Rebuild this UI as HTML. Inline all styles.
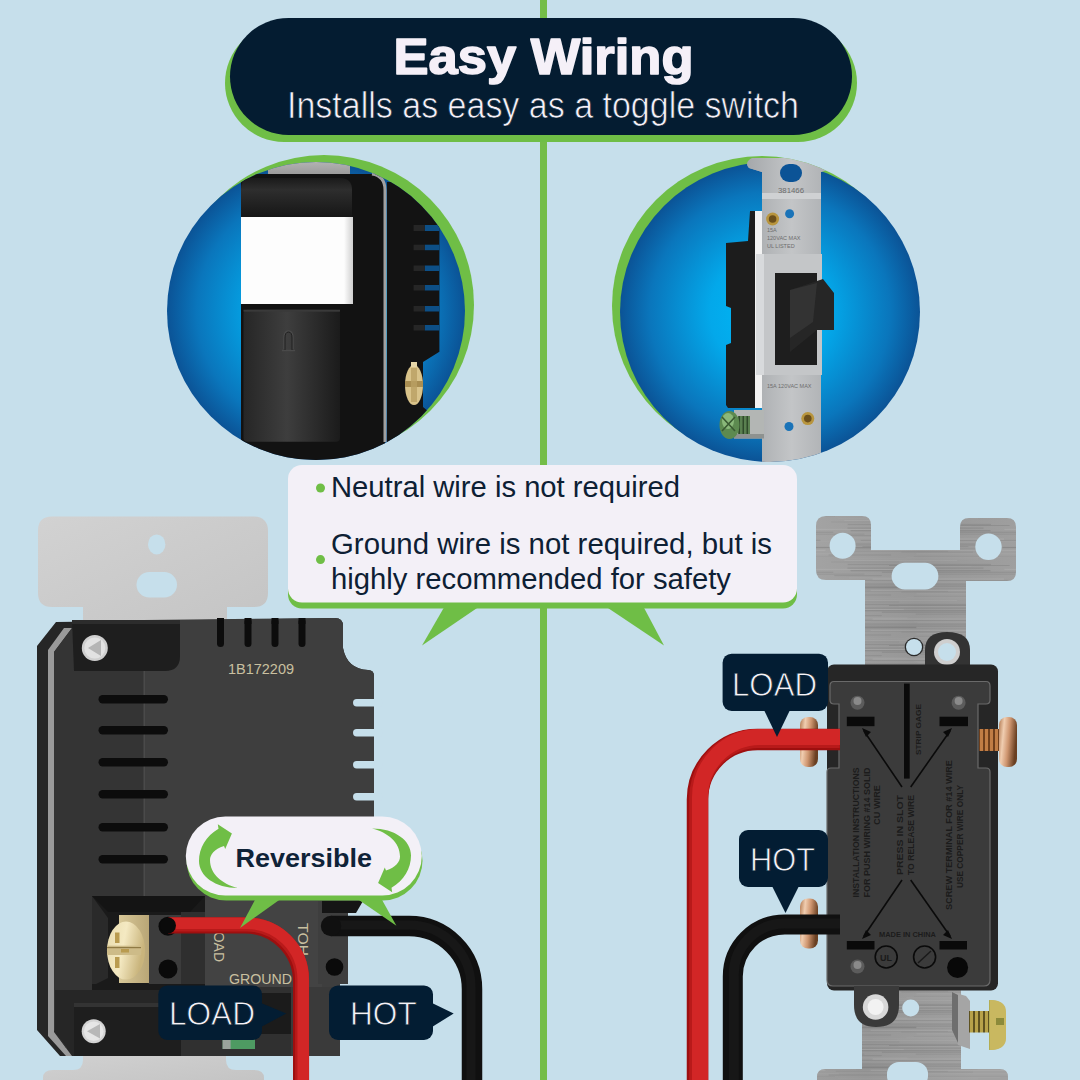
<!DOCTYPE html>
<html><head><meta charset="utf-8">
<style>
html,body{margin:0;padding:0;background:#c6dfeb;width:1080px;height:1080px;overflow:hidden}
svg{display:block}
text{font-family:"Liberation Sans",sans-serif}
</style></head>
<body>
<svg width="1080" height="1080" viewBox="0 0 1080 1080">
<defs>
  <radialGradient id="blueL" cx="0.5" cy="0.5" r="0.5">
    <stop offset="0" stop-color="#00baf8"/>
    <stop offset="0.4" stop-color="#03a8ea"/>
    <stop offset="0.8" stop-color="#0a76bc"/>
    <stop offset="1" stop-color="#0b5396"/>
  </radialGradient>
  <radialGradient id="blueR" cx="0.5" cy="0.5" r="0.5">
    <stop offset="0" stop-color="#00baf8"/>
    <stop offset="0.4" stop-color="#03a8ea"/>
    <stop offset="0.8" stop-color="#0a76bc"/>
    <stop offset="1" stop-color="#0b5396"/>
  </radialGradient>
  <linearGradient id="strapL" x1="0" y1="0" x2="1" y2="1">
    <stop offset="0" stop-color="#d2d2d2"/>
    <stop offset="1" stop-color="#c4c4c4"/>
  </linearGradient>
  <linearGradient id="steel" x1="0" y1="0" x2="1" y2="0.3">
    <stop offset="0" stop-color="#a3a3a3"/>
    <stop offset="0.5" stop-color="#979797"/>
    <stop offset="1" stop-color="#a0a0a0"/>
  </linearGradient>
  <clipPath id="clipL"><circle cx="316" cy="311" r="149"/></clipPath>
  <clipPath id="clipG"><circle cx="762" cy="306" r="150"/></clipPath>
  <clipPath id="clipR"><circle cx="770" cy="312" r="150"/></clipPath>
  <linearGradient id="strapTop" x1="0" y1="0" x2="0" y2="1">
    <stop offset="0" stop-color="#c8c8c8"/><stop offset="1" stop-color="#9a9a9a"/>
  </linearGradient>
  <linearGradient id="steel2" x1="0" y1="0" x2="1" y2="0">
    <stop offset="0" stop-color="#a5a8ab"/><stop offset="0.5" stop-color="#c3c5c7"/><stop offset="1" stop-color="#a9acaf"/>
  </linearGradient>
  <linearGradient id="copperV" x1="0" y1="0" x2="1" y2="0.25">
    <stop offset="0" stop-color="#b27a52"/><stop offset="0.3" stop-color="#f0cdb0"/><stop offset="0.6" stop-color="#cf9670"/><stop offset="1" stop-color="#6a4022"/>
  </linearGradient>
  <pattern id="threads" x="0" y="0" width="5" height="22" patternUnits="userSpaceOnUse">
    <rect width="5" height="22" fill="#c07d45"/><rect x="3" width="2" height="22" fill="#6e3f1c"/>
  </pattern>
  <linearGradient id="padG" x1="0" y1="0" x2="1" y2="0">
    <stop offset="0" stop-color="#262626"/><stop offset="0.45" stop-color="#3e3e3e"/><stop offset="1" stop-color="#1b1b1b"/>
  </linearGradient>
  <linearGradient id="capG" x1="0" y1="0" x2="0" y2="1">
    <stop offset="0" stop-color="#1a1a1a"/><stop offset="0.3" stop-color="#2e2e2e"/><stop offset="1" stop-color="#161616"/>
  </linearGradient>
  <linearGradient id="winEdge" x1="0" y1="0" x2="1" y2="0">
    <stop offset="0" stop-color="#fdfdfd"/><stop offset="1" stop-color="#cfcfcf"/>
  </linearGradient>
  <pattern id="brushed" x="0" y="0" width="200" height="40" patternUnits="userSpaceOnUse"><rect x="44.4" y="0.0" width="112.5" height="0.8" fill="#ffffff" opacity="0.08"/><rect x="-155.6" y="0.0" width="112.5" height="0.8" fill="#ffffff" opacity="0.08"/><rect x="31.1" y="1.7" width="68.1" height="0.6" fill="#000000" opacity="0.08"/><rect x="-168.9" y="1.7" width="68.1" height="0.6" fill="#000000" opacity="0.08"/><rect x="47.7" y="3.9" width="143.3" height="1.2" fill="#000000" opacity="0.08"/><rect x="-152.3" y="3.9" width="143.3" height="1.2" fill="#000000" opacity="0.08"/><rect x="89.0" y="5.0" width="120.6" height="0.8" fill="#000000" opacity="0.11"/><rect x="-111.0" y="5.0" width="120.6" height="0.8" fill="#000000" opacity="0.11"/><rect x="98.8" y="5.9" width="72.3" height="0.6" fill="#ffffff" opacity="0.06"/><rect x="-101.2" y="5.9" width="72.3" height="0.6" fill="#ffffff" opacity="0.06"/><rect x="47.4" y="7.5" width="136.1" height="1.2" fill="#000000" opacity="0.09"/><rect x="-152.6" y="7.5" width="136.1" height="1.2" fill="#000000" opacity="0.09"/><rect x="4.3" y="8.9" width="99.4" height="0.8" fill="#ffffff" opacity="0.11"/><rect x="-195.7" y="8.9" width="99.4" height="0.8" fill="#ffffff" opacity="0.11"/><rect x="50.5" y="10.1" width="140.0" height="1.2" fill="#000000" opacity="0.10"/><rect x="-149.5" y="10.1" width="140.0" height="1.2" fill="#000000" opacity="0.10"/><rect x="81.8" y="11.7" width="151.5" height="1.2" fill="#000000" opacity="0.08"/><rect x="-118.2" y="11.7" width="151.5" height="1.2" fill="#000000" opacity="0.08"/><rect x="115.8" y="13.7" width="148.6" height="0.8" fill="#000000" opacity="0.09"/><rect x="-84.2" y="13.7" width="148.6" height="0.8" fill="#000000" opacity="0.09"/><rect x="34.2" y="15.3" width="47.6" height="0.8" fill="#000000" opacity="0.09"/><rect x="-165.8" y="15.3" width="47.6" height="0.8" fill="#000000" opacity="0.09"/><rect x="49.3" y="17.3" width="58.1" height="1.2" fill="#ffffff" opacity="0.04"/><rect x="-150.7" y="17.3" width="58.1" height="1.2" fill="#ffffff" opacity="0.04"/><rect x="72.6" y="18.5" width="131.4" height="1.2" fill="#ffffff" opacity="0.11"/><rect x="-127.4" y="18.5" width="131.4" height="1.2" fill="#ffffff" opacity="0.11"/><rect x="60.7" y="19.8" width="159.8" height="1.0" fill="#000000" opacity="0.08"/><rect x="-139.3" y="19.8" width="159.8" height="1.0" fill="#000000" opacity="0.08"/><rect x="113.9" y="21.1" width="156.6" height="0.6" fill="#ffffff" opacity="0.04"/><rect x="-86.1" y="21.1" width="156.6" height="0.6" fill="#ffffff" opacity="0.04"/><rect x="117.6" y="22.3" width="80.8" height="1.0" fill="#ffffff" opacity="0.04"/><rect x="-82.4" y="22.3" width="80.8" height="1.0" fill="#ffffff" opacity="0.04"/><rect x="45.2" y="23.6" width="144.4" height="0.8" fill="#000000" opacity="0.11"/><rect x="-154.8" y="23.6" width="144.4" height="0.8" fill="#000000" opacity="0.11"/><rect x="51.7" y="24.9" width="126.4" height="0.6" fill="#000000" opacity="0.09"/><rect x="-148.3" y="24.9" width="126.4" height="0.6" fill="#000000" opacity="0.09"/><rect x="62.5" y="26.1" width="105.8" height="1.0" fill="#000000" opacity="0.07"/><rect x="-137.5" y="26.1" width="105.8" height="1.0" fill="#000000" opacity="0.07"/><rect x="2.4" y="26.9" width="113.9" height="1.2" fill="#000000" opacity="0.12"/><rect x="-197.6" y="26.9" width="113.9" height="1.2" fill="#000000" opacity="0.12"/><rect x="56.0" y="28.6" width="121.5" height="0.6" fill="#000000" opacity="0.09"/><rect x="-144.0" y="28.6" width="121.5" height="0.6" fill="#000000" opacity="0.09"/><rect x="70.7" y="29.8" width="154.6" height="1.0" fill="#ffffff" opacity="0.10"/><rect x="-129.3" y="29.8" width="154.6" height="1.0" fill="#ffffff" opacity="0.10"/><rect x="35.8" y="30.7" width="112.2" height="1.0" fill="#000000" opacity="0.05"/><rect x="-164.2" y="30.7" width="112.2" height="1.0" fill="#000000" opacity="0.05"/><rect x="101.3" y="31.7" width="71.7" height="0.8" fill="#000000" opacity="0.06"/><rect x="-98.7" y="31.7" width="71.7" height="0.8" fill="#000000" opacity="0.06"/><rect x="116.6" y="33.6" width="122.0" height="0.6" fill="#ffffff" opacity="0.10"/><rect x="-83.4" y="33.6" width="122.0" height="0.6" fill="#ffffff" opacity="0.10"/><rect x="28.6" y="34.6" width="62.5" height="0.8" fill="#000000" opacity="0.09"/><rect x="-171.4" y="34.6" width="62.5" height="0.8" fill="#000000" opacity="0.09"/><rect x="113.9" y="36.0" width="121.0" height="0.6" fill="#000000" opacity="0.04"/><rect x="-86.1" y="36.0" width="121.0" height="0.6" fill="#000000" opacity="0.04"/><rect x="106.2" y="37.1" width="94.1" height="0.8" fill="#ffffff" opacity="0.03"/><rect x="-93.8" y="37.1" width="94.1" height="0.8" fill="#ffffff" opacity="0.03"/><rect x="37.8" y="38.3" width="140.3" height="0.6" fill="#ffffff" opacity="0.03"/><rect x="-162.2" y="38.3" width="140.3" height="0.6" fill="#ffffff" opacity="0.03"/><rect x="96.8" y="39.9" width="81.4" height="1.0" fill="#ffffff" opacity="0.06"/><rect x="-103.2" y="39.9" width="81.4" height="1.0" fill="#ffffff" opacity="0.06"/></pattern>
  <pattern id="gthreads" x="0" y="0" width="5" height="22" patternUnits="userSpaceOnUse">
    <rect width="5" height="22" fill="#b7a24a"/><rect x="3" width="2" height="22" fill="#5e5220"/>
  </pattern>
  <linearGradient id="brassHead" x1="0" y1="0" x2="1" y2="0.3">
    <stop offset="0" stop-color="#e9dcae"/><stop offset="0.5" stop-color="#f4e9c2"/><stop offset="1" stop-color="#c9b47c"/>
  </linearGradient>
  <linearGradient id="brassBody" x1="0" y1="0" x2="1" y2="0">
    <stop offset="0" stop-color="#d8c898"/><stop offset="1" stop-color="#b9a676"/>
  </linearGradient>
  <pattern id="greenThreads" x="0" y="0" width="4" height="20" patternUnits="userSpaceOnUse">
    <rect width="4" height="20" fill="#5a8050"/><rect x="2.5" width="1.5" height="20" fill="#2f4a2a"/>
  </pattern>
</defs>
<rect width="1080" height="1080" fill="#c6dfeb"/>
<!-- center green line -->
<rect x="540" y="0" width="7" height="1080" fill="#74bd48"/>


<!-- ===== LEFT DIMMER (back view) ===== -->
<g id="dimmer">
  <!-- strap top -->
  <path d="M52 516.5 H254 Q268 517 268 531 V593 Q268 607 254 607 H227 V625 H83 V607 H52 Q38 607 38 593 V530.5 Q38 516.5 52 516.5 Z" fill="url(#strapL)"/>
  <ellipse cx="156.7" cy="544.4" rx="8.7" ry="10" fill="#c6dfeb"/>
  <rect x="136.5" y="572" width="40.5" height="25.6" rx="12.8" fill="#c6dfeb"/>
  <!-- strap bottom -->
  <path d="M83 1050 H226 V1060 Q226 1070 236 1070 H254 Q264 1070 264 1078 V1080 H43 V1078 Q43 1070 53 1070 H73 Q83 1070 83 1060 Z" fill="url(#strapL)"/>
  <!-- body outer -->
  <path d="M37 646 L56 622 L335 618 Q343 618 343 626 V648 Q347 669 368 670 Q374 670 374 676 V902 H348 V984 H340 V1050 Q340 1056 334 1056 H60 L37 1030 Z" fill="#262626"/>
  <!-- grey edge line -->
  <path d="M48 650 L64 628 L72 628 L54 652 V1032 L72 1056 H66 L48 1036 Z" fill="#9a9a9a"/>
  <!-- left inner panel -->
  <path d="M54 652 L72 628 H144 V1048 H66 L54 1030 Z" fill="#343434"/>
  <!-- right main panel -->
  <path d="M144 620 L335 618 Q343 618 343 626 V648 Q347 669 368 670 Q374 670 374 676 V902 H348 V984 H340 V1056 H144 Z" fill="#3e3e3e"/>
  <rect x="143.5" y="671" width="1.5" height="230" fill="#4a4a4a"/>
  <!-- right fin notches -->
  <g fill="#c6dfeb">
    <rect x="353" y="699" width="30" height="7.5" rx="3.7"/>
    <rect x="353" y="729" width="30" height="7.5" rx="3.7"/>
    <rect x="353" y="761" width="30" height="7.5" rx="3.7"/>
    <rect x="353" y="793" width="30" height="7.5" rx="3.7"/>
  </g>
  <!-- top slots -->
  <g fill="#0c0c0c">
    <rect x="217" y="618.5" width="7" height="28.5" rx="3.5"/>
    <rect x="217" y="618" width="7" height="6"/>
    <rect x="244.5" y="618.5" width="7" height="28.5" rx="3.5"/>
    <rect x="244.5" y="618" width="7" height="6"/>
    <rect x="271.5" y="618.5" width="7" height="28.5" rx="3.5"/>
    <rect x="271.5" y="618" width="7" height="6"/>
    <rect x="298.5" y="618.5" width="7" height="28.5" rx="3.5"/>
    <rect x="298.5" y="618" width="7" height="6"/>
  </g>
  <text x="228" y="673.5" font-size="14.5" fill="#c9c0a0" textLength="66" lengthAdjust="spacingAndGlyphs">1B172209</text>
  <!-- left slots -->
  <g fill="#0c0c0c">
    <rect x="98.5" y="695" width="69.5" height="8.5" rx="4.2"/>
    <rect x="98.5" y="726" width="69.5" height="8.5" rx="4.2"/>
    <rect x="98.5" y="758" width="69.5" height="8.5" rx="4.2"/>
    <rect x="98.5" y="790" width="69.5" height="8.5" rx="4.2"/>
    <rect x="98.5" y="823" width="69.5" height="8.5" rx="4.2"/>
    <rect x="98.5" y="855" width="69.5" height="8.5" rx="4.2"/>
  </g>
  <!-- top screw housing -->
  <path d="M72 620 H180 V656 Q180 671 165 671 H74 Z" fill="#1e1e1e"/>
  <path d="M72 620 H180 V624 H72 Z" fill="#2c2c2c"/>
  <circle cx="94.8" cy="648" r="13" fill="#cfcfcf"/>
  <circle cx="94.8" cy="648" r="10.5" fill="#e2e2e2"/>
  <path d="M101 640 L88 648 L101 656 Z" fill="#b5b5b5"/>

  <!-- lower terminal region -->
  <rect x="92" y="896" width="113" height="90" fill="#1a1a1a"/>
  <path d="M92 896 L108 918 V978 L92 986 Z" fill="#2a2a2a"/>
  <path d="M92 896 H205 L190 912 H108 Z" fill="#141414"/>
  <rect x="181" y="912" width="24" height="74" fill="#2f2f2f"/>
  <rect x="148.7" y="915" width="32.3" height="71" fill="#3c3c3c"/>
  <!-- brass screw -->
  <rect x="119" y="915" width="30" height="68" fill="url(#brassBody)"/>
  <ellipse cx="126" cy="950.6" rx="19" ry="29" fill="url(#brassHead)"/>
  <rect x="107" y="945.7" width="34" height="9.3" fill="#cdbb88"/>
  <rect x="107" y="947" width="34" height="1.2" fill="#8f7a45"/>
  <rect x="115" y="932.5" width="4.5" height="10.5" fill="#b99b50"/>
  <rect x="115" y="957" width="4.5" height="11" fill="#b99b50"/>
  <rect x="121" y="949" width="8" height="3.5" fill="#b99b50"/>
  <!-- terminal holes -->
  <circle cx="168" cy="926.3" r="9.5" fill="#0a0a0a"/>
  <circle cx="168" cy="969" r="9.5" fill="#0a0a0a"/>
  <!-- mid panel -->
  <rect x="205" y="900" width="117" height="87" fill="#434343"/>
  <text transform="matrix(0,1,-1,0,214,924)" font-size="14.5" fill="#c9c0a0" textLength="38" lengthAdjust="spacingAndGlyphs">LOAD</text>
  <text transform="matrix(0,-1,-1,0,298,956)" font-size="14.5" fill="#c9c0a0" textLength="33" lengthAdjust="spacingAndGlyphs">HOT</text>
  <text x="229" y="983.5" font-size="14.5" fill="#c9c0a0" textLength="63" lengthAdjust="spacingAndGlyphs">GROUND</text>
  <!-- right terminal block -->
  <rect x="318" y="901" width="30" height="83" fill="#3e3e3e"/>
  <path d="M322 901 H363 L356 913 H322 Z" fill="#151515"/>
  <circle cx="334.5" cy="967" r="8.8" fill="#0a0a0a"/>
  <!-- bottom section -->
  <rect x="144" y="987" width="196" height="69" fill="#303030"/>
  <rect x="291" y="987" width="49" height="69" fill="#3a3a3a"/>
  <rect x="92" y="984" width="113" height="21" fill="#1a1a1a"/>
  <rect x="261" y="993" width="30" height="41" fill="#1b1b1b"/>
  <rect x="222.6" y="1038.7" width="32.4" height="10.3" fill="#4e9a62"/>
  <rect x="222.6" y="1038.7" width="8" height="10.3" fill="#9aa39c"/>
  <path d="M55 990 H181 V1056 H73 L55 1032 Z" fill="#262626"/>
  <path d="M74 1004 H181 V1056 H74 Z" fill="#1e1e1e"/>
  <rect x="74" y="1003" width="107" height="4" fill="#333333"/>
  <circle cx="93.7" cy="1031.3" r="12" fill="#d4d4d4"/>
  <circle cx="93.7" cy="1031.3" r="9.8" fill="#e6e6e6"/>
  <path d="M100 1024 L87 1031.3 L100 1038.5 Z" fill="#b8b8b8"/>
</g>


<!-- ===== RIGHT SWITCH (back view) ===== -->
<g id="switch">
  <!-- strap -->
  <path d="M826 516 H862 Q871 516 871 525 V550 H960 V527 Q960 518 969 518 H1007 Q1016 518 1016 527 V572 Q1016 581 1007 581 H966 V990 H961 V1069 H1000 Q1008 1069 1008 1077 V1080 H817 V1077 Q817 1069 825 1069 H862 V990 H865 V580 H826 Q816 580 816 570 V526 Q816 516 826 516 Z" fill="url(#steel)"/>
  <path d="M826 516 H862 Q871 516 871 525 V550 H960 V527 Q960 518 969 518 H1007 Q1016 518 1016 527 V572 Q1016 581 1007 581 H966 V990 H961 V1069 H1000 Q1008 1069 1008 1077 V1080 H817 V1077 Q817 1069 825 1069 H862 V990 H865 V580 H826 Q816 580 816 570 V526 Q816 516 826 516 Z" fill="url(#brushed)"/>
  <circle cx="842.6" cy="545.8" r="13" fill="#c6dfeb"/>
  <circle cx="988.5" cy="546.8" r="13.2" fill="#c6dfeb"/>
  <rect x="891.6" y="562.8" width="46.8" height="26.6" rx="13.3" fill="#c6dfeb"/>
  <rect x="887" y="1062" width="41" height="26" rx="12" fill="#c6dfeb"/>
  <!-- top boss -->
  <circle cx="914" cy="647" r="9.3" fill="#2a2a2a"/>
  <circle cx="914" cy="647" r="8" fill="#c6dfeb"/>
  <path d="M925 650 Q925 632 947 632 Q970 632 970 650 V672 H925 Z" fill="#333333"/>
  <circle cx="947" cy="652" r="13" fill="#cfcfcf"/>
  <circle cx="947" cy="652" r="9" fill="#c6dfeb"/>
  <!-- body outer -->
  <rect x="827" y="664.5" width="171" height="326" rx="7" fill="#262626"/>
  <!-- plate -->
  <path d="M834 681.5 H986 Q990 681.5 990 686 V700 Q990 704 986 704 H978 V768 H986 Q990 768 990 772 V980 Q990 986 984 986 H833 Q827 986 827 980 V772 Q827 768 831 768 H839 V704 H834 Q830 704 830 700 V686 Q830 681.5 834 681.5 Z" fill="#3b3b3b" stroke="#6a6a6a" stroke-width="1.2"/>
  <rect x="904" y="683.6" width="5.7" height="95" fill="#0a0a0a"/>
  <g fill="#0a0a0a">
    <rect x="846.8" y="716.7" width="27.7" height="9.5"/>
    <rect x="939.5" y="716.7" width="28.5" height="9.5"/>
    <rect x="846.8" y="941" width="27.7" height="8.5"/>
    <rect x="939.5" y="941" width="27.5" height="8.5"/>
  </g>
  <g fill="#5c5c5c"><circle cx="857.5" cy="702.8" r="7"/><circle cx="958.6" cy="702.8" r="7"/><circle cx="857.5" cy="966.5" r="7"/></g>
  <g fill="#8a8a8a"><circle cx="857.5" cy="701" r="4"/><circle cx="958.6" cy="701" r="4"/><circle cx="857.5" cy="965" r="4"/></g>
  <g stroke="#0a0a0a" stroke-width="1.6" fill="none">
    <line x1="902" y1="787" x2="864" y2="731"/>
    <line x1="910.7" y1="787" x2="950" y2="731"/>
    <line x1="902" y1="880" x2="864" y2="936"/>
    <line x1="910.7" y1="880" x2="950" y2="936"/>
    <circle cx="886.2" cy="957" r="11"/>
    <circle cx="924.6" cy="957" r="11"/>
  </g>
  <g fill="#0a0a0a">
    <path d="M862 728 L871 732 L866 737 Z"/><path d="M952 728 L943 732 L948 737 Z"/>
    <path d="M862 939 L871 935 L866 930 Z"/><path d="M952 939 L943 935 L948 930 Z"/>
  </g>
  <circle cx="957.6" cy="967.5" r="10.5" fill="#080808"/>
  <text x="880" y="961" font-size="9" font-weight="bold" fill="#1a1a1a" textLength="12" lengthAdjust="spacingAndGlyphs">UL</text>
  <path d="M918 963 L931 951" stroke="#1a1a1a" stroke-width="1.5"/>
  <g font-size="8" fill="#1c1c1c" font-weight="bold">
    <text x="879" y="936.5" textLength="57" lengthAdjust="spacingAndGlyphs">MADE IN CHINA</text>
    <text transform="matrix(0,-1,1,0,921,755)" textLength="51" lengthAdjust="spacingAndGlyphs">STRIP GAGE</text>
  </g>
  <g font-size="9" fill="#1c1c1c" font-weight="bold">
    <text transform="matrix(0,-1,1,0,858.5,897.5)" textLength="130" lengthAdjust="spacingAndGlyphs">INSTALLATION INSTRUCTIONS</text>
    <text transform="matrix(0,-1,1,0,869.5,897.5)" textLength="130" lengthAdjust="spacingAndGlyphs">FOR PUSH WIRING #14 SOLID</text>
    <text transform="matrix(0,-1,1,0,879.5,825)" textLength="40" lengthAdjust="spacingAndGlyphs">CU WIRE</text>
    <text transform="matrix(0,-1,1,0,903,875)" textLength="80" lengthAdjust="spacingAndGlyphs">PRESS IN SLOT</text>
    <text transform="matrix(0,-1,1,0,914,875)" textLength="80" lengthAdjust="spacingAndGlyphs">TO RELEASE WIRE</text>
    <text transform="matrix(0,-1,1,0,951.5,910)" textLength="150" lengthAdjust="spacingAndGlyphs">SCREW TERMINAL FOR #14 WIRE</text>
    <text transform="matrix(0,-1,1,0,962.5,888)" textLength="103" lengthAdjust="spacingAndGlyphs">USE COPPER WIRE ONLY</text>
  </g>
  <!-- bottom boss -->
  <path d="M854 986 H899 V1005 Q899 1027 876 1027 Q854 1027 854 1005 Z" fill="#3a3a3a"/>
  <circle cx="875.6" cy="1007" r="12.8" fill="#d8d8d8"/>
  <circle cx="875.6" cy="1007" r="8" fill="#f2f2f2"/>
  <circle cx="910.7" cy="1008" r="8.5" fill="#c6dfeb"/>
  <!-- side screws -->
  <rect x="800" y="717" width="18" height="50" rx="8" fill="url(#copperV)"/>
  <rect x="979" y="729" width="22" height="22" fill="url(#threads)"/>
  <rect x="999" y="717" width="18" height="50" rx="8" fill="url(#copperV)"/>
  <rect x="800" y="898.5" width="18" height="50" rx="8" fill="url(#copperV)"/>
  <!-- ground screw -->
  <path d="M952 992 L966 996 L970 1001 V1049 L958 1045 L952 1030 Z" fill="#a5a5a5"/>
  <path d="M952 992 L958 995 V1043 L952 1030 Z" fill="#6e6e6e"/>
  <rect x="969" y="1011" width="21" height="21.5" fill="url(#gthreads)"/>
  <path d="M989 1000 Q1005 1000 1005.5 1012 V1038 Q1005 1050 989 1050 Z" fill="#b3ad52"/>
  <path d="M991 1004 Q1001 1005 1002 1014 V1024 H991 Z" fill="#d8d27a"/>
  <rect x="993" y="1019" width="10" height="6" fill="#6f7a35"/>
</g>
  <path d="M990 1000 Q1006 1000 1006 1012 V1038 Q1006 1050 990 1050 Z" fill="#c9b860"/>
  <rect x="996" y="1018" width="8" height="7" fill="#8c8a3a"/>
</g>


<!-- ===== WIRES ===== -->
<g fill="none" stroke-linecap="butt">
  <!-- left red -->
  <path d="M168 925.5 H245 A56 56 0 0 1 301 981.5 V1090" stroke="#9e0f0f" stroke-width="16"/>
  <path d="M168 925.5 H245 A56 56 0 0 1 301 981.5 V1090" stroke="#b81a1a" stroke-width="14" transform="translate(1.1,-1.1)"/>
  <path d="M168 925.5 H245 A56 56 0 0 1 301 981.5 V1090" stroke="#d22626" stroke-width="11.5" transform="translate(2.2,-2.2)"/>
  <!-- left black -->
  <path d="M331 926 H409 A63 63 0 0 1 472 989 V1080" stroke="#101010" stroke-width="20.5"/>
  <path d="M331 925 H409 A62 62 0 0 1 471 989 V1080" stroke="#171717" stroke-width="9"/>
  <!-- right red -->
  <path d="M840 739.6 H757.5 A60 60 0 0 0 697.5 799.6 V1090" stroke="#9e0f0f" stroke-width="21.5"/>
  <path d="M838.5 739.6 H757.5 A60 60 0 0 0 697.5 799.6 V1090" stroke="#b81a1a" stroke-width="19" transform="translate(1.2,-1.2)"/>
  <path d="M837.5 739.6 H757.5 A60 60 0 0 0 697.5 799.6 V1090" stroke="#d22626" stroke-width="16" transform="translate(2.5,-2.5)"/>
  <!-- right black -->
  <path d="M840 924.4 H784.8 A52 52 0 0 0 732.8 976.4 V1080" stroke="#101010" stroke-width="20"/>
  <path d="M840 923.5 H784.8 A51 51 0 0 0 733.8 976.4 V1080" stroke="#171717" stroke-width="10"/>
</g>
<circle cx="168" cy="925.5" r="8" fill="#0a0a0a"/>
<circle cx="331" cy="926" r="10.2" fill="#101010"/>
<!-- ===== TAGS ===== -->
<g fill="#031d33">
  <rect x="158.3" y="985.4" width="103.7" height="54.6" rx="9"/>
  <path d="M261 1003 L286.3 1013.5 L261 1027 Z"/>
  <rect x="329" y="985.4" width="104" height="54.6" rx="9"/>
  <path d="M432 1003 L453.7 1013.5 L432 1027 Z"/>
  <rect x="722.6" y="653.7" width="105.4" height="57.3" rx="9"/>
  <path d="M764 710 L777 737 L790 710 Z"/>
  <rect x="739" y="830" width="89" height="57" rx="9"/>
  <path d="M772 886 L785.5 913 L799 886 Z"/>
</g>
<g fill="#f5f2f8" font-size="33" stroke="#031d33" stroke-width="0.8">
  <text x="169" y="1025" textLength="86" lengthAdjust="spacingAndGlyphs">LOAD</text>
  <text x="350" y="1025" textLength="66.7" lengthAdjust="spacingAndGlyphs">HOT</text>
  <text x="732" y="696" textLength="85" lengthAdjust="spacingAndGlyphs">LOAD</text>
  <text x="750" y="870.7" textLength="65" lengthAdjust="spacingAndGlyphs">HOT</text>
</g>
<!-- ===== REVERSIBLE PILL ===== -->
<path d="M256 898 L240 928 L282 898 Z" fill="#6fbe46"/>
<path d="M356 898 L396.4 925.7 L381 898 Z" fill="#6fbe46"/>
<rect x="186.5" y="821" width="236" height="79.5" rx="39.7" fill="#6fbe46"/>
<rect x="185.8" y="816.5" width="236" height="79" rx="39.5" fill="#f3f0f7"/>
<text x="235.5" y="866.7" font-size="26" font-weight="bold" fill="#0f2338" textLength="136.5" lengthAdjust="spacingAndGlyphs">Reversible</text>
<g fill="#6fbe46" id="arrL">
  <path d="M217.8 824.3 L231.9 833.5 L225.2 849 L224 846 C214 849 210 855 210 860 C210 874 222 884 238 888 C215 888 199 876 199 861 C199 848 206 836 218.5 828.7 Z"/>
</g>
<g fill="#6fbe46" transform="rotate(180 305 858.25)">
  <path d="M217.8 824.3 L231.9 833.5 L225.2 849 L224 846 C214 849 210 855 210 860 C210 874 222 884 238 888 C215 888 199 876 199 861 C199 848 206 836 218.5 828.7 Z"/>
</g>

<!-- header pill -->
<rect x="225" y="24" width="632" height="118" rx="59" fill="#6fbe46"/>
<rect x="230" y="18" width="622" height="117" rx="58.5" fill="#041c31"/>
<text x="543.5" y="74" text-anchor="middle" font-weight="bold" font-size="50" fill="#f5f0f8" stroke="#f5f0f8" stroke-width="1.6" stroke-linejoin="round" textLength="300" lengthAdjust="spacingAndGlyphs">Easy Wiring</text>
<text x="287" y="117.5" font-size="36" fill="#f5f0f8" stroke="#041c31" stroke-width="0.7" textLength="512" lengthAdjust="spacingAndGlyphs">Installs as easy as a toggle switch</text>

<!-- left circle -->
<circle cx="324" cy="305" r="150" fill="#6fbe46"/>
<circle cx="316" cy="311" r="149" fill="url(#blueL)"/>
<!-- right circle -->
<circle cx="762" cy="306" r="150" fill="#6fbe46"/>
<circle cx="770" cy="312" r="150" fill="url(#blueR)"/>


<!-- left circle device -->
<g clip-path="url(#clipL)">
  <rect x="268" y="150" width="82" height="25" fill="url(#strapTop)"/>
  <path d="M249 174 H372 Q384 174 385 188 V470 H241 V182 Q241 174 249 174 Z" fill="#121212"/>
  <!-- heat sink -->
  <path d="M387 182 H439.4 V351.7 L423 362 V407 L429 412 V470 H387 Z" fill="#131313"/>
  <g fill="#0d4f86">
    <rect x="424.7" y="225" width="14.7" height="6"/>
    <rect x="424.7" y="244.7" width="14.7" height="5.5"/>
    <rect x="424.7" y="265.5" width="14.7" height="5.5"/>
    <rect x="424.7" y="285" width="14.7" height="5.5"/>
    <rect x="424.7" y="306" width="14.7" height="5.5"/>
    <rect x="424.7" y="325" width="14.7" height="5.5"/>
  </g>
  <g fill="#262626">
    <rect x="413.6" y="225" width="11" height="6"/>
    <rect x="413.6" y="244.7" width="11" height="5.5"/>
    <rect x="413.6" y="265.5" width="11" height="5.5"/>
    <rect x="413.6" y="285" width="11" height="5.5"/>
    <rect x="413.6" y="306" width="11" height="5.5"/>
    <rect x="413.6" y="325" width="11" height="5.5"/>
  </g>
  <!-- grey edge line -->
  <path d="M372 174 Q385 176 385 190 V442" fill="none" stroke="#a0a0a0" stroke-width="3"/>
  <!-- top cap -->
  <path d="M252 178 H340 Q352 178 352 190 V217 H241 V189 Q241 178 252 178 Z" fill="url(#capG)"/>
  <!-- white window -->
  <rect x="241" y="217" width="112" height="87" fill="#fdfdfd"/>
  <rect x="344" y="217" width="9" height="87" fill="url(#winEdge)"/>
  <!-- paddle -->
  <rect x="243.5" y="309.7" width="96.5" height="132" rx="4" fill="url(#padG)"/>
  <rect x="243.5" y="309.7" width="96.5" height="2" fill="#3a3a3a"/>
  <path d="M284 349 V338 Q284 331 288.5 331 Q293 331 293 338 V349 M282 350.5 H295" fill="none" stroke="#4a4a4a" stroke-width="1.4"/>
  <path d="M285 350 V338 Q285 332 288.5 332 Q292 332 292 338 V350" fill="none" stroke="#1a1a1a" stroke-width="0.8"/>
  <!-- brass screw -->
  <ellipse cx="414" cy="385" rx="9" ry="20" fill="#d9c38a"/>
  <rect x="405" y="381" width="18" height="6" fill="#a98e52"/>
  <rect x="411" y="368" width="6" height="34" fill="#b9a063" opacity="0.8"/>
  <rect x="411" y="362" width="6" height="5" fill="#e6d6a8"/>
</g>

<!-- right circle device -->
<g clip-path="url(#clipR)">
  <!-- black side body -->
  <path d="M750 211 H759 V408 H728 L726 405 V345 L731 343 V308 L726 306 V243 L748 241 Z" fill="#1c1c1c"/>
  <rect x="755" y="211" width="9" height="197" fill="#f2f2f2"/>
  <!-- strap -->
  <path d="M752 158 H834 Q838 162 834 168 L821 172 V470 H762 V172 L749 168 Q744 162 752 158 Z" fill="url(#steel2)"/>
  <rect x="762" y="193" width="59" height="6" fill="#cfd1d3"/>
  <rect x="756" y="254" width="66" height="121" fill="#c4c6c8"/>
  <rect x="756" y="254" width="8" height="121" fill="#d8dadc"/>
  <rect x="780" y="164" width="22" height="18" rx="9" fill="#0b5396"/>
  <circle cx="772.6" cy="219" r="6.5" fill="#b8953e"/><circle cx="772.6" cy="219" r="3.8" fill="#6b4f1c"/>
  <circle cx="789.6" cy="213.7" r="4.5" fill="#1a73b8"/>
  <circle cx="807.8" cy="418.6" r="6.5" fill="#b8953e"/><circle cx="807.8" cy="418.6" r="3.8" fill="#6b4f1c"/>
  <circle cx="789" cy="426.5" r="4.5" fill="#1a73b8"/>
  <!-- toggle -->
  <rect x="775" y="273" width="42" height="92" fill="#1e1e1e"/>
  <path d="M790 290 L823 279 L834 293 V330 L817 330 L790 352 Z" fill="#262626"/>
  <path d="M790 290 L817 283 L813 322 L790 338 Z" fill="#333333"/>
  <g font-size="7" fill="#6d6d6d"><text x="778" y="193" textLength="26" lengthAdjust="spacingAndGlyphs">381466</text><text x="767" y="232" font-size="5.5">15A</text><text x="767" y="240" font-size="5.5">120VAC MAX</text><text x="767" y="248" font-size="5.5">UL LISTED</text><text x="767" y="388" font-size="5.5">15A 120VAC MAX</text></g>
  <!-- green ground screw -->
  <rect x="734" y="410" width="30" height="28.5" fill="#b3b6b4"/>
  <rect x="734" y="434" width="30" height="4.5" fill="#8e9290"/>
  <rect x="738" y="416" width="12" height="18" fill="url(#greenThreads)"/>
  <ellipse cx="729.5" cy="425" rx="10" ry="14" fill="#5d8a50"/>
  <ellipse cx="728" cy="421" rx="6" ry="8" fill="#8ab87a"/>
  <path d="M722 417 L735 431 M735 417 L722 431" stroke="#3a5a32" stroke-width="1.6"/>
</g>
<g clip-path="url(#clipG)">
  <path d="M752 158 H834 Q838 162 834 168 L821 172 V185 H762 V172 L749 168 Q744 162 752 158 Z" fill="url(#steel2)"/>
  <rect x="780" y="164" width="22" height="18" rx="9" fill="#0b5396"/>
</g>
<!-- callout box -->
<path d="M446 604 L422 645.5 L483 604 Z" fill="#6fbe46"/>
<path d="M602 604 L664 645.5 L642 604 Z" fill="#6fbe46"/>
<rect x="288" y="471" width="509" height="137.5" rx="14" fill="#6fbe46"/>
<rect x="288" y="465" width="509" height="137.5" rx="14" fill="#f3f0f7"/>
<circle cx="320.5" cy="488" r="4.5" fill="#6fbe46"/>
<circle cx="320.5" cy="559.6" r="4.5" fill="#6fbe46"/>
<text x="331" y="497" font-size="30" fill="#0d2034" textLength="349" lengthAdjust="spacingAndGlyphs">Neutral wire is not required</text>
<text x="331" y="554" font-size="30" fill="#0d2034" textLength="441" lengthAdjust="spacingAndGlyphs">Ground wire is not required, but is</text>
<text x="331" y="589" font-size="30" fill="#0d2034" textLength="400" lengthAdjust="spacingAndGlyphs">highly recommended for safety</text>

</svg>
</body></html>
